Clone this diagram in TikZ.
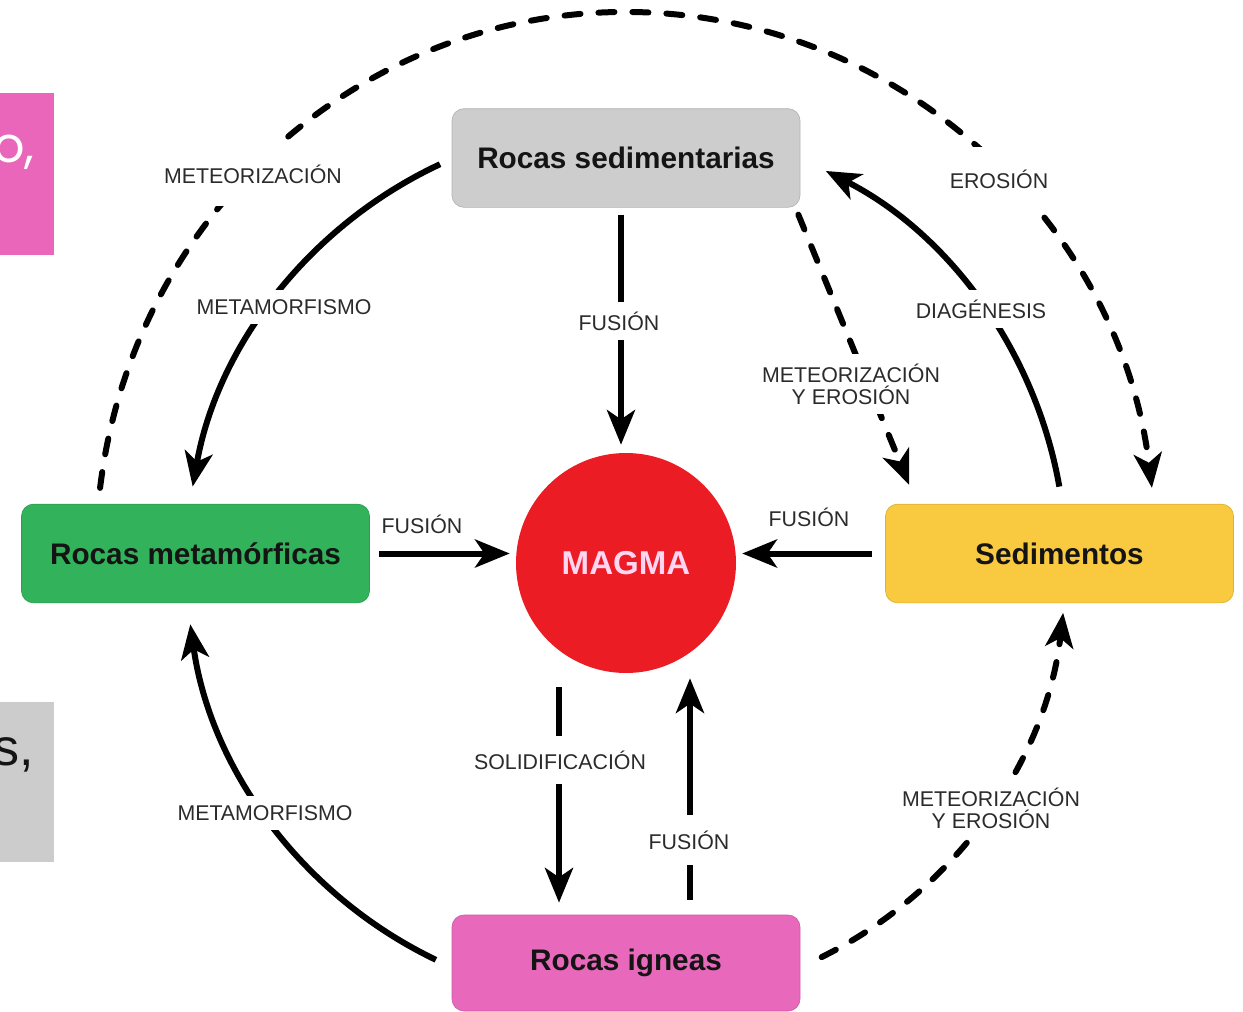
\documentclass[tikz,border=0pt]{standalone}
\usepackage{fontspec}
\setmainfont{Liberation Sans}
\newfontfamily\popp{Poppins}
\usetikzlibrary{arrows.meta,calc}
\definecolor{boxgray}{HTML}{CDCDCD}
\definecolor{boxgreen}{HTML}{32B35B}
\definecolor{boxyellow}{HTML}{F9C93F}
\definecolor{boxpink}{HTML}{E868BC}
\definecolor{magmared}{HTML}{EC1C24}
\definecolor{magmatext}{HTML}{FFD6F2}
\definecolor{lbltext}{HTML}{2B2B2B}
\definecolor{titletext}{HTML}{141414}
\definecolor{sidepink}{HTML}{E966BA}
\definecolor{sidegray}{HTML}{CCCCCC}
\begin{document}
\begin{tikzpicture}[x=0.75pt,y=-0.75pt,
  rockbox/.style={rectangle, rounded corners=9pt, minimum width=261pt, minimum height=74pt,
    font=\fontsize{22.3}{26}\selectfont\bfseries, text=titletext, fill=#1, draw=#1!88!black, line width=0.5pt},
  lbl/.style={fill=white, inner xsep=3pt, inner ysep=7pt, font=\fontsize{16}{16.5}\selectfont, text=lbltext, align=center},
  outerlbl/.style={lbl, inner ysep=17pt},
  arr/.style={line width=4.5pt, -{Stealth[length=26pt,width=21pt,inset=7pt]}},
  arrd/.style={arr, line cap=round, dash pattern=on 12pt off 13.5pt},
]
\useasboundingbox (0,0) rectangle (1243,1011);
\fill[white] (0,0) rectangle (1243,1011);

% side fragments
\fill[sidepink] (0,93) rectangle (54,255);
\fill[sidegray] (0,702) rectangle (54,862);
\begin{scope}
\clip (0,93) rectangle (54,255);
\node[anchor=base east, inner sep=0pt, text=white, font=\popp\fontsize{37}{40}\selectfont] (fragA) at (35,162) {o,};
\end{scope}
\begin{scope}
\clip (0,702) rectangle (54,862);
\node[anchor=base east, inner sep=0pt, text=titletext, font=\fontsize{39}{42}\selectfont] (fragB) at (34,765) {s,};
\end{scope}

% nodes
\node[rockbox=boxgray] (sed) at (626,158) {Rocas sedimentarias};
\node[rockbox=boxgreen] (meta) at (195.5,553.5) {Rocas metamórficas};
\node[rockbox=boxyellow] (sedim) at (1059.5,553.5) {Sedimentos};
\node[rockbox=boxpink, minimum height=72pt] (ign) at (626,963) {Rocas igneas};
\node[circle, fill=magmared, minimum size=165pt, inner sep=0pt, text=magmatext,
  font=\fontsize{24.8}{28}\selectfont\bfseries] (magma) at (626,563) {MAGMA};
\coordinate (oc) at ($(magma)+(0,-8)$);

% outer dashed arc
\draw[arrd] ($(oc)+(-172.9:530 and 543)$) arc[start angle=-172.9, end angle=-7.1, x radius=530, y radius=543];

% inner arcs
\draw[arr] ($(magma)+(-115:440)$) arc[start angle=-115, end angle=-170, radius=440];
\draw[arr] ($(magma)+(115.6:440)$) arc[start angle=115.6, end angle=172, radius=440];
\draw[arr] ($(magma)+(-10:440)$) arc[start angle=-10, end angle=-63, radius=440];
\draw[arrd] ($(magma)+(63.6:440)$) arc[start angle=63.6, end angle=6.5, radius=440];

% straight arrows
\draw[arr] ($(sed.south)+(-5,7)$) -- ($(magma.north)+(-5,-8)$);
\draw[arr] ($(meta.east)+(9,0)$) -- ($(meta.east -| magma.west)+(-6,0)$);
\draw[arr] ($(sedim.west)+(-13,0)$) -- ($(sedim.west -| magma.east)+(6,0)$);
\draw[arr] ($(magma.south)+(-67,14)$) -- ($(ign.north)+(-67,-12)$);
\draw[arr] ($(ign.north)+(64,-15)$) -- ($(magma.south)+(64,5)$);
\draw[arrd] ($(sed.south east)+(-2,7)$) -- ($(sedim.north west)+(24,-19)$);

% labels
\node[outerlbl] (lA) at (253,174) {METEORIZACIÓN};
\node[outerlbl] (lB) at (999,179) {EROSIÓN};
\node[lbl] (lC) at (284,307) {METAMORFISMO};
\node[lbl] (lD) at (619,321) {FUSIÓN};
\node[lbl] (lE) at (981,309) {DIAGÉNESIS};
\node[lbl] (lF) at (851,384) {METEORIZACIÓN\\Y EROSIÓN};
\node[lbl] (lG) at (422,524) {FUSIÓN};
\node[lbl] (lH) at (809,517) {FUSIÓN};
\node[lbl, inner ysep=11pt] (lI) at (560,760) {SOLIDIFICACIÓN};
\node[lbl, inner ysep=12pt] (lJ) at (689,840) {FUSIÓN};
\node[lbl] (lK) at (265,813) {METAMORFISMO};
\node[lbl] (lL) at (991,808) {METEORIZACIÓN\\Y EROSIÓN};
\end{tikzpicture}
\end{document}
